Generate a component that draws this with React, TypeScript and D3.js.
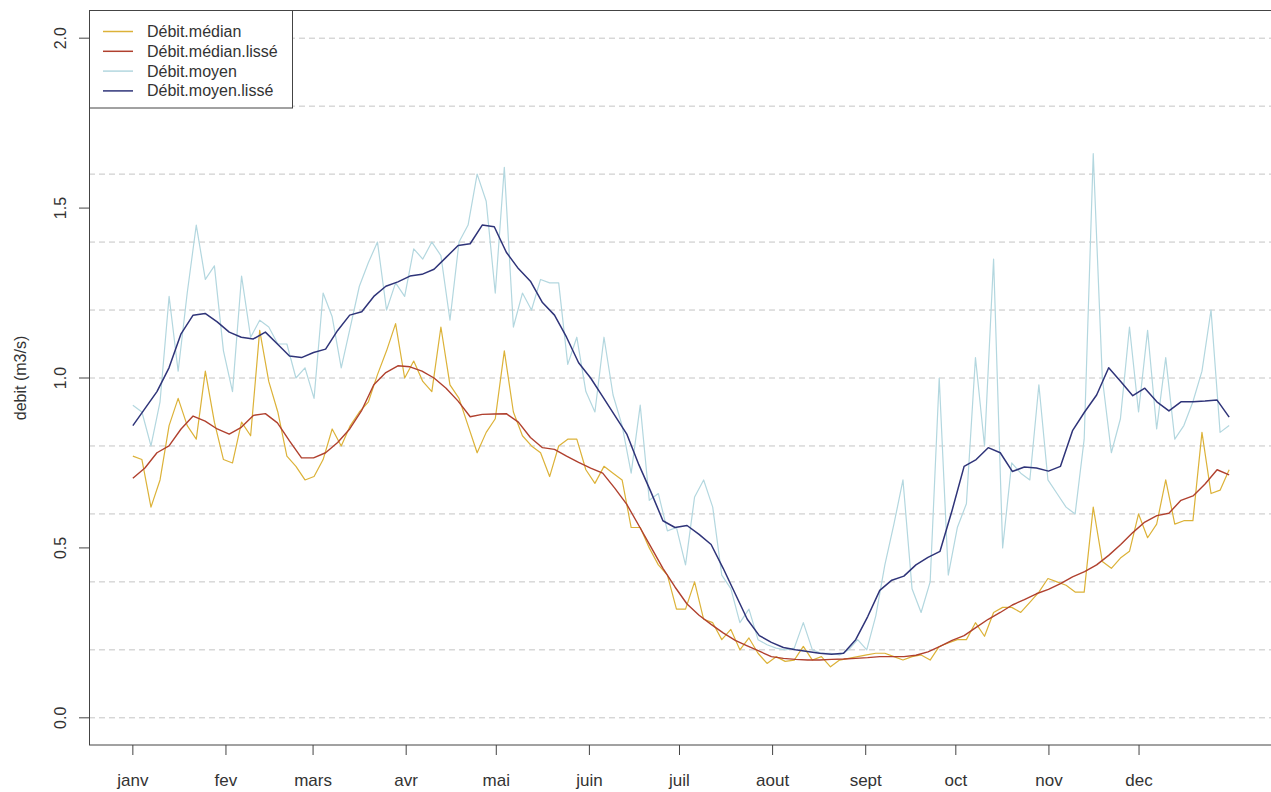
import * as d3 from 'd3'

// month ticks (leap year, day of year)
const monthLabels = ['janv', 'fev', 'mars', 'avr', 'mai', 'juin', 'juil', 'aout', 'sept', 'oct', 'nov', 'dec']
const monthStartDays = [1, 32, 61, 92, 122, 153, 183, 214, 245, 275, 306, 336]
const yTicks = [0, 0.5, 1, 1.5, 2]
const gridValues = [0, 0.2, 0.4, 0.6, 0.8, 1.0, 1.2, 1.4, 1.6, 1.8, 2.0]

// raw series, read every ~3 days from day 1 to day 366
const debitMedian = [
  0.77, 0.76, 0.62, 0.70, 0.86, 0.94, 0.86, 0.82, 1.02, 0.87,
  0.76, 0.75, 0.87, 0.83, 1.14, 0.99, 0.90, 0.77, 0.74, 0.70,
  0.71, 0.76, 0.85, 0.80, 0.86, 0.90, 0.93, 1.01, 1.08, 1.16,
  1.00, 1.05, 0.99, 0.96, 1.15, 0.98, 0.94, 0.86, 0.78, 0.84,
  0.88, 1.08, 0.90, 0.83, 0.80, 0.78, 0.71, 0.80, 0.82, 0.82,
  0.73, 0.69, 0.74, 0.72, 0.70, 0.56, 0.56, 0.50, 0.45, 0.42,
  0.32, 0.32, 0.40, 0.29, 0.28, 0.23, 0.26, 0.20, 0.235, 0.19,
  0.16, 0.18, 0.166, 0.17, 0.21, 0.17, 0.18, 0.15, 0.17, 0.175,
  0.18, 0.185, 0.19, 0.19, 0.18, 0.17, 0.18, 0.185, 0.17, 0.21,
  0.22, 0.23, 0.23, 0.28, 0.24, 0.31, 0.325, 0.325, 0.31, 0.34,
  0.37, 0.41, 0.40, 0.39, 0.37, 0.37, 0.62, 0.46, 0.44, 0.47,
  0.49, 0.60, 0.53, 0.57, 0.70, 0.57, 0.58, 0.58, 0.84, 0.66,
  0.67, 0.73,
]

const debitMoyen = [
  0.92, 0.90, 0.80, 0.93, 1.24, 1.02, 1.25, 1.45, 1.29, 1.33,
  1.08, 0.96, 1.30, 1.12, 1.17, 1.15, 1.10, 1.10, 1.00, 1.03,
  0.94, 1.25, 1.18, 1.03, 1.15, 1.27, 1.34, 1.40, 1.20, 1.28,
  1.24, 1.38, 1.35, 1.40, 1.36, 1.17, 1.40, 1.45, 1.60, 1.52,
  1.25, 1.62, 1.15, 1.25, 1.20, 1.29, 1.28, 1.28, 1.04, 1.12,
  0.96, 0.90, 1.12, 0.95, 0.86, 0.72, 0.92, 0.64, 0.66, 0.55,
  0.56, 0.45, 0.65, 0.70, 0.62, 0.42, 0.38, 0.28, 0.32, 0.23,
  0.215, 0.205, 0.20, 0.205, 0.28, 0.20, 0.19, 0.19, 0.185, 0.20,
  0.23, 0.20, 0.30, 0.45, 0.57, 0.70, 0.38, 0.31, 0.40, 1.00,
  0.42, 0.56, 0.63, 1.06, 0.80, 1.35, 0.50, 0.75, 0.72, 0.70,
  0.98, 0.70, 0.66, 0.62, 0.60, 0.82, 1.66, 1.00, 0.78, 0.88,
  1.15, 0.90, 1.14, 0.85, 1.06, 0.82, 0.86, 0.93, 1.02, 1.20,
  0.84, 0.86,
]

// smoothed series, read every ~4 days from day 1 to day 366
const debitMedianLisse = [
  0.705, 0.735, 0.78, 0.80, 0.85, 0.888, 0.873, 0.85, 0.835, 0.855,
  0.89, 0.895, 0.868, 0.815, 0.765, 0.765, 0.78, 0.81, 0.85, 0.905,
  0.98, 1.016, 1.036, 1.033, 1.02, 1.0, 0.97, 0.932, 0.886, 0.893,
  0.894, 0.895, 0.87, 0.825, 0.795, 0.79, 0.77, 0.752, 0.735, 0.72,
  0.676, 0.628, 0.566, 0.503, 0.44, 0.385, 0.335, 0.302, 0.275, 0.25,
  0.228, 0.212, 0.196, 0.18, 0.175, 0.172, 0.17, 0.17, 0.172, 0.173,
  0.175, 0.177, 0.18, 0.18, 0.18, 0.184, 0.194, 0.21, 0.228, 0.242,
  0.266, 0.29, 0.31, 0.332, 0.348, 0.365, 0.378, 0.395, 0.415, 0.43,
  0.45, 0.478, 0.51, 0.545, 0.576, 0.595, 0.602, 0.64, 0.653, 0.688,
  0.73, 0.715,
]

const debitMoyenLisse = [
  0.86, 0.91, 0.96, 1.03, 1.13, 1.185, 1.19, 1.165, 1.135, 1.12,
  1.115, 1.135, 1.10, 1.065, 1.06, 1.075, 1.085, 1.14, 1.185, 1.195,
  1.24, 1.27, 1.283, 1.30, 1.305, 1.32, 1.355, 1.39, 1.395, 1.45,
  1.445, 1.37, 1.322, 1.285, 1.222, 1.185, 1.12, 1.045, 1.0, 0.945,
  0.89, 0.835, 0.745, 0.665, 0.58, 0.56, 0.566, 0.54, 0.51, 0.44,
  0.365, 0.29, 0.242, 0.222, 0.207, 0.2, 0.195, 0.19, 0.187, 0.19,
  0.23, 0.298, 0.375, 0.405, 0.417, 0.45, 0.472, 0.49, 0.61, 0.74,
  0.76, 0.795, 0.78, 0.725, 0.738, 0.735, 0.726, 0.74, 0.845, 0.9,
  0.95, 1.03, 0.99, 0.948, 0.97, 0.93, 0.903, 0.93, 0.93, 0.932,
  0.935, 0.885,
]

const series = [
  { name: 'Débit.médian', values: debitMedian, color: '#dcb238', width: 1.2 },
  { name: 'Débit.médian.lissé', values: debitMedianLisse, color: '#b0402e', width: 1.4 },
  { name: 'Débit.moyen', values: debitMoyen, color: '#b3d7df', width: 1.2 },
  { name: 'Débit.moyen.lissé', values: debitMoyenLisse, color: '#2f3479', width: 1.5 },
]

const FONT = "'Liberation Sans', Arial, sans-serif"

export default function App() {
  const width = 1271
  const height = 792
  const plot = { left: 89, right: 1273, top: 11, bottom: 745 }

  // R style: data range padded by 4%
  const x = d3.scaleLinear().domain([-13.6, 380.6]).range([plot.left, plot.right])
  const y = d3.scaleLinear().domain([-0.08, 2.08]).range([plot.bottom, plot.top])

  const daysFor = (n: number) => d3.range(n).map(i => 1 + (i * 365) / (n - 1))

  const legendRow = (i: number) => 31.5 + i * 19.8

  return (
    <svg
      width={width}
      height={height}
      style={{ position: 'absolute', left: 0, top: 0, background: '#fff' }}
      fontFamily={FONT}
    >
      <rect x={0} y={0} width={width} height={height} fill="#fff" />

      {/* horizontal dashed grid */}
      {gridValues.map(v => (
        <line
          key={v}
          x1={plot.left}
          x2={width}
          y1={y(v)}
          y2={y(v)}
          stroke="#c4c4c4"
          strokeDasharray="6,4"
          strokeWidth={1}
        />
      ))}

      {/* series */}
      {series.map(s => {
        const days = daysFor(s.values.length)
        const line = d3.line<number>()
          .x((_, i) => x(days[i]))
          .y(d => y(d))
        return (
          <path
            key={s.name}
            d={line(s.values) || ''}
            fill="none"
            stroke={s.color}
            strokeWidth={s.width}
            strokeLinejoin="round"
          />
        )
      })}

      {/* plot box */}
      <rect
        x={plot.left + 0.5}
        y={plot.top - 0.5}
        width={plot.right - plot.left}
        height={plot.bottom - plot.top + 0.5}
        fill="none"
        stroke="#444"
        strokeWidth={1}
      />

      {/* y axis */}
      {yTicks.map(t => (
        <g key={t}>
          <line x1={plot.left - 10} x2={plot.left} y1={y(t)} y2={y(t)} stroke="#444" />
          <text
            transform={`translate(${60},${y(t)}) rotate(-90)`}
            textAnchor="middle"
            dominantBaseline="central"
            fontSize={16}
            fill="#333"
          >
            {t.toFixed(1)}
          </text>
        </g>
      ))}
      <text
        transform={`translate(${20},${(plot.top + plot.bottom) / 2}) rotate(-90)`}
        textAnchor="middle"
        dominantBaseline="central"
        fontSize={16}
        fill="#333"
      >
        debit (m3/s)
      </text>

      {/* x axis */}
      {monthStartDays.map((d, i) => (
        <g key={d}>
          <line x1={x(d)} x2={x(d)} y1={plot.bottom} y2={plot.bottom + 10} stroke="#444" />
          <text x={x(d)} y={786} textAnchor="middle" fontSize={17} fill="#333">
            {monthLabels[i]}
          </text>
        </g>
      ))}

      {/* legend */}
      <g>
        <rect x={89.5} y={10.5} width={203} height={97.5} fill="#fff" stroke="#444" strokeWidth={1} />
        {series.map((s, i) => (
          <g key={s.name}>
            <line x1={103} x2={133} y1={legendRow(i)} y2={legendRow(i)} stroke={s.color} strokeWidth={1.5} />
            <text x={147} y={legendRow(i)} dominantBaseline="central" fontSize={16} fill="#333">
              {s.name}
            </text>
          </g>
        ))}
      </g>
    </svg>
  )
}
